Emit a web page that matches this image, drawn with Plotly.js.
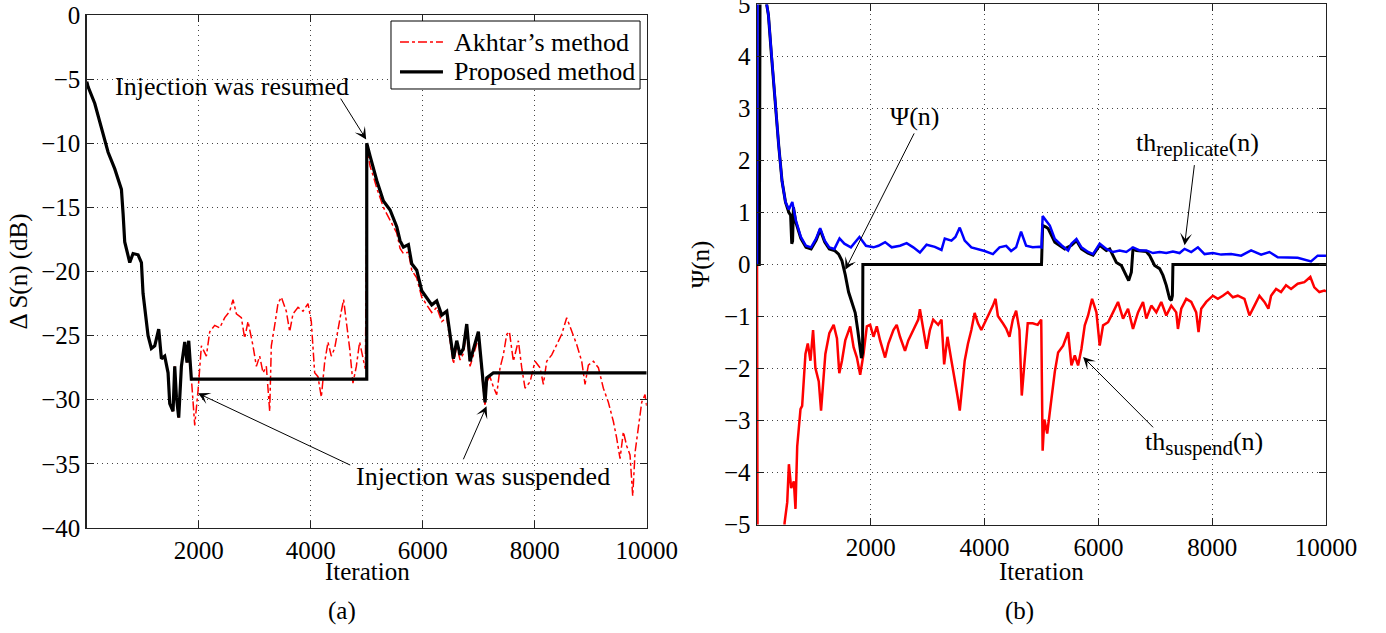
<!DOCTYPE html>
<html>
<head>
<meta charset="utf-8">
<script src="https://cdn.plot.ly/plotly-3.0.1.min.js"></script>
<style>html,body{margin:0;padding:0;background:#fff}#plot{width:1386px;height:633px}</style>
</head>
<body>
<div id="plot"></div>
<script>
// ---------- Panel (a): ΔS(n) ----------
const iterProposed = [0, 24, 143, 262, 381, 500, 619, 649, 678, 768, 827, 916, 976, 1005, 1095, 1154, 1214, 1285, 1333, 1392, 1452, 1482, 1541, 1571, 1601, 1642, 1690, 1750, 1790, 1821, 1868, 5000, 5000, 5060, 5179, 5298, 5417, 5536, 5595, 5655, 5744, 5804, 5893, 5982, 6071, 6161, 6250, 6339, 6429, 6488, 6548, 6607, 6667, 6726, 6786, 6845, 6935, 6994, 7054, 7113, 7143, 7262, 10000];
const dsProposed = [-5.2, -5.6, -6.9, -8.8, -10.7, -12.0, -13.6, -15.5, -17.7, -19.3, -18.6, -18.7, -19.3, -21.7, -25.0, -26.0, -25.8, -24.5, -26.8, -26.6, -27.9, -30.3, -30.9, -27.4, -29.8, -31.4, -27.4, -25.5, -27.1, -25.4, -28.4, -28.4, -10.0, -11.0, -12.9, -14.5, -15.2, -16.5, -17.6, -18.1, -17.9, -19.4, -19.9, -21.5, -22.0, -22.6, -22.3, -23.4, -23.1, -24.9, -26.8, -25.4, -26.5, -26.0, -24.1, -27.0, -25.7, -24.7, -27.5, -30.2, -28.3, -27.9, -27.9];

const iterAkhtar = [0, 24, 143, 262, 381, 500, 619, 649, 678, 768, 827, 916, 976, 1005, 1095, 1154, 1214, 1285, 1333, 1392, 1452, 1482, 1541, 1571, 1601, 1642, 1690, 1750, 1790, 1821, 1868,
  1928, 1987, 2047, 2136, 2196, 2285, 2374, 2464, 2553, 2612, 2672, 2761, 2820, 2880, 2969, 3029, 3088, 3148, 3207, 3267, 3296, 3356, 3415, 3475, 3564, 3624, 3683, 3773, 3862, 3951, 4010, 4070, 4129, 4189, 4248, 4308, 4367, 4427, 4486, 4546, 4587, 4635, 4695, 4754, 4814, 4873, 4933, 4975,
  5010, 5060, 5120, 5179, 5298, 5417, 5536, 5595, 5655, 5744, 5804, 5893, 5982, 6071, 6161, 6250, 6339, 6429, 6488, 6548, 6607, 6667, 6726, 6786, 6845, 6935, 6994, 7054, 7113, 7143, 7200, 7262,
  7321, 7381, 7440, 7500, 7548, 7619, 7708, 7768, 7827, 7917, 8006, 8095, 8155, 8214, 8304, 8393, 8482, 8571, 8661, 8750, 8839, 8899, 8958, 9048, 9137, 9226, 9315, 9405, 9464, 9524, 9583, 9643, 9702, 9750, 9792, 9851, 9911, 9970, 10000];
const dsAkhtar = [-5.2, -5.6, -6.9, -8.8, -10.7, -12.0, -13.6, -15.5, -17.7, -19.3, -18.6, -18.7, -19.3, -21.7, -25.0, -26.0, -25.8, -24.5, -26.8, -26.6, -27.9, -30.3, -30.9, -27.4, -29.8, -31.4, -27.4, -25.5, -27.1, -25.4, -28.4,
  -32.0, -29.3, -25.8, -26.6, -24.7, -24.2, -24.4, -23.6, -23.1, -22.2, -23.3, -23.6, -25.2, -23.9, -25.8, -27.4, -26.6, -27.9, -27.4, -30.9, -25.8, -24.2, -22.5, -22.0, -23.1, -24.7, -23.3, -22.8, -23.1, -22.5, -23.9, -27.9, -28.2, -29.8, -27.1, -25.5, -26.6, -26.0, -24.4, -23.1, -22.2, -23.9, -26.0, -28.7, -27.4, -25.5, -26.8, -27.6,
  -10.5, -11.8, -12.6, -13.5, -15.0, -16.0, -17.0, -18.2, -18.6, -18.5, -19.9, -20.5, -22.0, -22.6, -23.2, -22.8, -23.9, -23.6, -25.3, -27.2, -25.8, -26.9, -26.4, -24.6, -27.4, -26.1, -25.2, -27.9, -30.5, -28.6, -28.2, -29.0,
  -29.6, -27.5, -26.5, -24.9, -24.7, -27.0, -25.4, -27.5, -29.1, -28.6, -27.0, -27.5, -28.8, -27.0, -26.5, -25.7, -24.9, -23.6, -24.7, -25.7, -27.0, -28.8, -27.3, -27.0, -27.5, -29.1, -30.2, -31.7, -33.0, -34.6, -32.5, -33.6, -34.3, -37.5, -34.1, -32.0, -30.2, -29.6, -30.5];

// ---------- Panel (b): Ψ(n) and thresholds ----------
const iterReplicate = [0, 10, 150, 170, 200, 255, 316, 380, 440, 500, 560, 620, 680, 770, 860, 950, 1040, 1110, 1190, 1270, 1360, 1450, 1535, 1650, 1800, 1915, 2047, 2134, 2251, 2367, 2513, 2630, 2746, 2863, 2980, 3125, 3242, 3300, 3417, 3487, 3563, 3650, 3767, 3883, 4000, 4146, 4262, 4379, 4466, 4554, 4641, 4729, 4845, 4962, 5000, 5020, 5080, 5146, 5234, 5351, 5468, 5526, 5614, 5702, 5819, 5906, 6023, 6140, 6257, 6374, 6491, 6608, 6725, 6842, 6959, 7076, 7193, 7310, 7427, 7515, 7632, 7749, 7866, 8012, 8158, 8333, 8509, 8684, 8860, 9006, 9152, 9327, 9503, 9737, 9854, 10000];
const thReplicate = [0, 6, 6, 5, 4.8, 4.0, 3.1, 2.3, 1.6, 1.2, 1.06, 1.2, 0.86, 0.53, 0.36, 0.33, 0.5, 0.7, 0.46, 0.33, 0.30, 0.5, 0.4, 0.33, 0.53, 0.36, 0.33, 0.36, 0.43, 0.33, 0.36, 0.41, 0.33, 0.23, 0.38, 0.34, 0.28, 0.5, 0.46, 0.53, 0.71, 0.46, 0.33, 0.3, 0.26, 0.2, 0.33, 0.36, 0.26, 0.33, 0.63, 0.36, 0.33, 0.34, 0.33, 0.93, 0.85, 0.75, 0.49, 0.37, 0.27, 0.4, 0.49, 0.33, 0.24, 0.2, 0.4, 0.3, 0.24, 0.27, 0.24, 0.33, 0.27, 0.27, 0.22, 0.24, 0.22, 0.25, 0.22, 0.3, 0.24, 0.33, 0.2, 0.22, 0.19, 0.2, 0.17, 0.27, 0.19, 0.24, 0.14, 0.14, 0.13, 0.06, 0.17, 0.17];

const iterPsi = [0, 40, 55, 150, 170, 200, 255, 316, 380, 440, 500, 560, 590, 610, 625, 640, 680, 770, 860, 950, 1040, 1110, 1190, 1270, 1360, 1434, 1493, 1551, 1609, 1668, 1726, 1770, 1835, 1855, 1860, 5000, 5020, 5080, 5117, 5234, 5409, 5526, 5614, 5702, 5819, 5906, 6023, 6140, 6199, 6257, 6316, 6404, 6491, 6532, 6579, 6608, 6667, 6842, 6901, 6988, 7076, 7135, 7193, 7252, 7281, 7300, 7310, 10000];
const psiValues = [0, 0, 6, 6, 5, 4.8, 4.0, 3.1, 2.3, 1.6, 1.2, 1.0, 0.95, 0.4, 0.45, 1.1, 0.82, 0.5, 0.33, 0.3, 0.47, 0.67, 0.43, 0.3, 0.27, 0.2, 0.07, -0.2, -0.53, -0.73, -0.93, -1.26, -1.8, -1.7, 0, 0, 0.75, 0.72, 0.69, 0.43, 0.3, 0.37, 0.46, 0.3, 0.22, 0.18, 0.37, 0.27, 0.3, 0.17, 0.04, -0.02, -0.21, -0.31, -0.15, 0.3, 0.27, 0.25, 0.17, -0.02, -0.08, -0.21, -0.4, -0.66, -0.69, -0.6, 0, 0];

const iterSuspend = [0, 10, 460, 484, 531, 560, 600, 647, 676, 706, 764, 793, 851, 892, 939, 985, 1026, 1085, 1125, 1160, 1201, 1271, 1347, 1405, 1446, 1493, 1551, 1638, 1697, 1755, 1813, 1872, 1930, 1988, 2047, 2105, 2163, 2251, 2309, 2397, 2455, 2513, 2601, 2659, 2746, 2834, 2863, 2921, 2980, 3038, 3096, 3184, 3242, 3289, 3347, 3417, 3475, 3522, 3563, 3603, 3650, 3708, 3767, 3825, 3883, 3942, 4000, 4070, 4146, 4192, 4233, 4321, 4379, 4437, 4496, 4554, 4612, 4653, 4700, 4758, 4845, 4933, 4995, 5005, 5020, 5050, 5100, 5175, 5234, 5292, 5380, 5468, 5526, 5585, 5643, 5702, 5760, 5819, 5889, 5965, 6023, 6082, 6170, 6257, 6345, 6433, 6521, 6608, 6696, 6784, 6842, 6930, 7018, 7105, 7193, 7281, 7368, 7398, 7456, 7544, 7632, 7719, 7760, 7807, 7895, 8012, 8099, 8187, 8275, 8363, 8450, 8567, 8655, 8743, 8830, 8918, 8988, 9035, 9123, 9210, 9298, 9386, 9503, 9620, 9725, 9795, 9883, 9971, 10000];
const thSuspend = [0, -6, -6, -4.97, -4.57, -3.84, -4.3, -4.17, -4.7, -3.5, -2.78, -2.72, -1.72, -1.52, -1.85, -1.26, -1.99, -2.25, -2.81, -2.25, -1.72, -1.32, -1.16, -1.42, -2.09, -1.85, -1.46, -1.19, -1.59, -1.79, -2.12, -1.72, -1.19, -1.16, -1.39, -1.19, -1.46, -1.79, -1.52, -1.26, -1.16, -1.39, -1.66, -1.46, -1.26, -1.06, -0.86, -1.26, -1.62, -1.26, -1.06, -1.16, -1.06, -1.92, -1.39, -1.85, -2.19, -2.52, -2.81, -2.32, -1.85, -1.52, -1.26, -0.93, -1.13, -1.26, -1.13, -0.99, -0.79, -0.66, -0.99, -1.13, -1.23, -1.39, -1.06, -0.89, -1.26, -2.52, -1.92, -1.13, -1.13, -1.16, -1.06, -2.98, -3.58, -2.98, -3.25, -2.58, -2.06, -1.69, -1.56, -1.3, -1.94, -1.75, -1.94, -1.62, -1.17, -0.98, -0.66, -0.92, -1.56, -1.17, -1.11, -0.92, -0.72, -1.04, -0.85, -1.24, -0.92, -0.72, -1.04, -0.79, -0.92, -0.72, -0.98, -0.79, -0.92, -1.24, -0.85, -0.66, -0.72, -0.92, -1.3, -0.85, -0.72, -0.6, -0.66, -0.6, -0.53, -0.63, -0.6, -0.66, -0.98, -0.79, -0.6, -0.72, -0.85, -0.6, -0.47, -0.53, -0.4, -0.47, -0.37, -0.34, -0.24, -0.44, -0.53, -0.5, -0.52];

const xTicks = [2000, 4000, 6000, 8000, 10000];
const xTickText = ['2000', '4000', '6000', '8000', '10000'];
const yTicksA = [0, -5, -10, -15, -20, -25, -30, -35, -40];
const yTicksB = [-5, -4, -3, -2, -1, 0, 1, 2, 3, 4, 5];
const legendNames = ['Akhtar’s method', 'Proposed method'];

const FONT = 'Liberation Serif';
const FS = 25;

const traces = [
  {x: iterAkhtar, y: dsAkhtar, xaxis: 'x', yaxis: 'y', mode: 'lines', name: legendNames[0],
   line: {color: '#ff0000', width: 1.5, dash: 'dashdot'}},
  {x: iterProposed, y: dsProposed, xaxis: 'x', yaxis: 'y', mode: 'lines', name: legendNames[1],
   line: {color: '#000000', width: 3.2}},
  {x: iterSuspend, y: thSuspend, xaxis: 'x2', yaxis: 'y2', mode: 'lines', name: 'th_suspend(n)',
   line: {color: '#ff0000', width: 2.5}},
  {x: iterPsi, y: psiValues, xaxis: 'x2', yaxis: 'y2', mode: 'lines', name: 'Ψ(n)',
   line: {color: '#000000', width: 3}},
  {x: iterReplicate, y: thReplicate, xaxis: 'x2', yaxis: 'y2', mode: 'lines', name: 'th_replicate(n)',
   line: {color: '#0000ff', width: 2.5}}
];

function axisBase() {
  return {
    showline: true, linecolor: '#222', linewidth: 1.5, mirror: 'ticks',
    ticks: 'inside', ticklen: 7, tickwidth: 1, tickcolor: '#222',
    showgrid: true, gridcolor: '#444', gridwidth: 1, griddash: '1px,4px',
    zeroline: false, ticklabeloverflow: 'allow',
    tickfont: {family: FONT, size: FS, color: '#000'}
  };
}

// legend box geometry (paper coordinates)
const LG = {x0: 0.2821, x1: 0.4618, y0: 0.8594, y1: 0.9668, sx0: 0.2886, sx1: 0.3196, tx: 0.3261, r1: 0.9336, r2: 0.8863};

const layout = {
  width: 1386, height: 633, autosize: false,
  margin: {l: 0, r: 0, t: 0, b: 0, pad: 0},
  paper_bgcolor: '#fff', plot_bgcolor: '#fff',
  font: {family: FONT, size: FS, color: '#000'},
  showlegend: false,
  xaxis: Object.assign(axisBase(), {domain: [0.0626, 0.4666], range: [0, 10000], tickvals: xTicks, ticktext: xTickText, anchor: 'y'}),
  yaxis: Object.assign(axisBase(), {domain: [0.1659, 0.9763], range: [-40, 0], tickvals: yTicksA,
          anchor: 'x', title: {text: 'Δ S(n) (dB)', font: {family: FONT, size: FS, color: '#000'}, standoff: 6}}),
  xaxis2: Object.assign(axisBase(), {domain: [0.5462, 0.9567], range: [0, 10000], tickvals: xTicks, ticktext: xTickText, anchor: 'y2'}),
  yaxis2: Object.assign(axisBase(), {domain: [0.1714, 0.9929], range: [-5, 5], tickvals: yTicksB,
          anchor: 'x2', title: {text: 'Ψ(n)', font: {family: FONT, size: FS, color: '#000'}, standoff: 7}}),
  shapes: [
    {type: 'rect', xref: 'paper', yref: 'paper', x0: LG.x0, x1: LG.x1, y0: LG.y0, y1: LG.y1, fillcolor: '#fff', line: {color: '#000', width: 1}},
    {type: 'line', xref: 'paper', yref: 'paper', x0: LG.sx0, x1: LG.sx1, y0: LG.r1, y1: LG.r1, line: {color: '#ff0000', width: 1.5, dash: 'dashdot'}},
    {type: 'line', xref: 'paper', yref: 'paper', x0: LG.sx0, x1: LG.sx1, y0: LG.r2, y1: LG.r2, line: {color: '#000', width: 3.2}}
  ],
  annotations: [
    {xref: 'paper', yref: 'paper', x: LG.tx, y: LG.r1, xanchor: 'left', yanchor: 'middle', text: legendNames[0], showarrow: false, font: {family: FONT, size: 26}},
    {xref: 'paper', yref: 'paper', x: LG.tx, y: LG.r2, xanchor: 'left', yanchor: 'middle', text: legendNames[1], showarrow: false, font: {family: FONT, size: 26}},
    {xref: 'paper', yref: 'paper', x: 0.2648, y: 0.0964, xanchor: 'center', yanchor: 'middle', text: 'Iteration', showarrow: false, font: {family: FONT, size: FS}},
    {xref: 'paper', yref: 'paper', x: 0.7514, y: 0.0964, xanchor: 'center', yanchor: 'middle', text: 'Iteration', showarrow: false, font: {family: FONT, size: FS}},
    {xref: 'x', yref: 'y', x: 2589, y: -5.6, text: 'Injection was resumed', showarrow: false, font: {family: FONT, size: 26}},
    {xref: 'x', yref: 'y', x: 4990, y: -9.7, axref: 'x', ayref: 'y', ax: 4518, ay: -6.4, text: '', showarrow: true, arrowhead: 3, arrowsize: 2, arrowwidth: 1, arrowcolor: '#000'},
    {xref: 'x', yref: 'y', x: 7071, y: -36.0, text: 'Injection was suspended', showarrow: false, font: {family: FONT, size: 26}},
    {xref: 'x', yref: 'y', x: 1987, y: -29.5, axref: 'x', ayref: 'y', ax: 4732, ay: -35.15, text: '', showarrow: true, arrowhead: 3, arrowsize: 2, arrowwidth: 1, arrowcolor: '#000'},
    {xref: 'x', yref: 'y', x: 7140, y: -30.5, axref: 'x', ayref: 'y', ax: 6714, ay: -34.76, text: '', showarrow: true, arrowhead: 3, arrowsize: 2, arrowwidth: 1, arrowcolor: '#000'},
    {xref: 'x2', yref: 'y2', x: 2775, y: 2.85, text: 'Ψ(n)', showarrow: false, font: {family: FONT, size: 26}},
    {xref: 'x2', yref: 'y2', x: 1551, y: -0.1, axref: 'x2', ayref: 'y2', ax: 2775, ay: 2.55, text: '', showarrow: true, arrowhead: 3, arrowsize: 2, arrowwidth: 1, arrowcolor: '#000'},
    {xref: 'x2', yref: 'y2', x: 7740, y: 2.3, text: 'th<sub><span style="font-size:21px">replicate</span></sub>(n)', showarrow: false, font: {family: FONT, size: 26}},
    {xref: 'x2', yref: 'y2', x: 7515, y: 0.37, axref: 'x2', ayref: 'y2', ax: 7690, ay: 1.94, text: '', showarrow: true, arrowhead: 3, arrowsize: 2, arrowwidth: 1, arrowcolor: '#000'},
    {xref: 'x2', yref: 'y2', x: 7860, y: -3.45, text: 'th<sub><span style="font-size:21px">suspend</span></sub>(n)', showarrow: false, font: {family: FONT, size: 26}},
    {xref: 'x2', yref: 'y2', x: 5731, y: -1.78, axref: 'x2', ayref: 'y2', ax: 6988, ay: -3.16, text: '', showarrow: true, arrowhead: 3, arrowsize: 2, arrowwidth: 1, arrowcolor: '#000'},
    {xref: 'paper', yref: 'paper', x: 0.2468, y: 0.0348, xanchor: 'center', yanchor: 'middle', text: '(a)', showarrow: false, font: {family: FONT, size: FS}},
    {xref: 'paper', yref: 'paper', x: 0.7359, y: 0.0348, xanchor: 'center', yanchor: 'middle', text: '(b)', showarrow: false, font: {family: FONT, size: FS}}
  ]
};

Plotly.newPlot('plot', traces, layout, {displayModeBar: false, staticPlot: true});
</script>
</body>
</html>
